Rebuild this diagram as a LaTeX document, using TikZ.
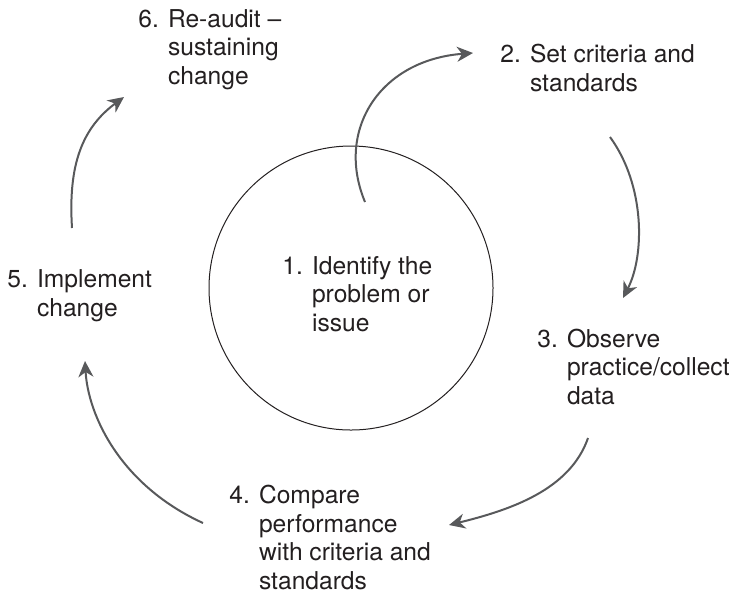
\documentclass[tikz,border=0pt]{standalone}
\usepackage{fontspec}
\setmainfont{TeX Gyre Heros}
\usetikzlibrary{arrows.meta}

\definecolor{arrowgrey}{RGB}{88,89,91}
\definecolor{textgrey}{RGB}{35,31,32}
\newcommand{\ind}{\hphantom{0. }}

\begin{document}
\begin{tikzpicture}[x=0.5pt, y=-0.5pt,
		stagetext/.style = {align=left, anchor=base west, inner sep=0pt, text=textgrey,
			font=\fontsize{12.3}{14.25}\selectfont},
		cyclearrow/.style = {draw=arrowgrey, line width=1pt,
			-{Stealth[length=8pt, width=7.5pt, inset=2.5pt]}}]
	\useasboundingbox (0,0) rectangle (732,596);

	% the problem in the middle (nodes sit on the baseline of their last line)
	\draw[line width=0.5pt, textgrey] (351,288) circle [radius=142];
	\node[stagetext] (issue) at (282,331) {1. Identify the\\\ind problem or\\\ind issue};

	% the stages round it
	\node[stagetext] (criteria) at (500,91) {2. Set criteria and\\\ind standards};
	\node[stagetext] (observe) at (537,404) {3. Observe\\\ind practice/collect\\\ind data};
	\node[stagetext] (compare) at (229,589) {4. Compare\\\ind performance\\\ind with criteria and\\\ind standards};
	\node[stagetext] (implement) at (7,316) {5. Implement\\\ind change};
	\node[stagetext] (reaudit) at (138,84) {6. Re-audit –\\\ind sustaining\\\ind change};

	% arrow ends
	\coordinate (from12) at (365,202);
	\coordinate (to12) at (473,53);
	\coordinate (from23) at (610,137);
	\coordinate (to23) at (623,298);
	\coordinate (from34) at (588,438);
	\coordinate (to34) at (449,525);
	\coordinate (from45) at (203,523);
	\coordinate (to45) at (85,361);
	\coordinate (from56) at (72,228);
	\coordinate (to56) at (124,97);

	\draw[cyclearrow] (from12) .. controls (335,130) and (380,60) .. (to12);
	\draw[cyclearrow] (from23) .. controls (645,185) and (645,255) .. (to23);
	\draw[cyclearrow] (from34) .. controls (570,490) and (510,510) .. (to34);
	\draw[cyclearrow] (from45) .. controls (120,485) and (88,415) .. (to45);
	\draw[cyclearrow] (from56) .. controls (68,165) and (82,128) .. (to56);
\end{tikzpicture}
\end{document}
